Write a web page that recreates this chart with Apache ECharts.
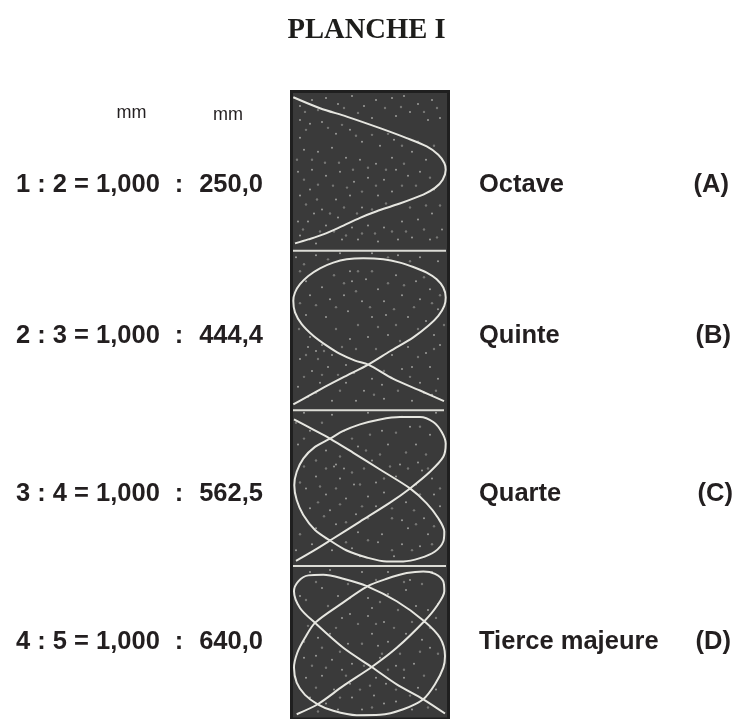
<!DOCTYPE html>
<html><head><meta charset="utf-8">
<style>html,body{margin:0;padding:0;background:#fff}#c{width:737px;height:719px}</style>
<script src="https://cdn.jsdelivr.net/npm/echarts@6/dist/echarts.min.js"></script>
</head><body><div id="c"></div>
<script>
const ratios = ['1 : 2 = 1,000','2 : 3 = 1,000','3 : 4 = 1,000','4 : 5 = 1,000'];
const lengths = ['250,0','444,4','562,5','640,0'];
const intervals = ['Octave','Quinte','Quarte','Tierce majeure'];
const tags = ['(A)','(B)','(C)','(D)'];
const rowY = [185,336,494,642];
const tagX = [729,731,733,731];
const dividers = [[251.5,293,446],[411.5,293,444],[568,293,446]];
const curveA = [[293.3,97.3],[320,108.3],[346.7,116.7],[380,128.3],[406.7,138.3],[426.7,146.7],[438.3,155],[444.3,163.3],[445.7,170],[442.7,180],[435,188.3],[423.3,195],[396.7,205],[376.7,211.7],[360,218.3],[340,227.7],[323.3,235],[308.3,240],[295,244]];
const curveB = [[293.3,405.7],[320,390.7],[346.7,376.7],[368.3,365.7],[390,352.3],[413.3,338.3],[428.3,326.7],[438.3,316.7],[444.3,306.7],[445.7,298.3],[443.3,288.3],[436.7,280],[426.7,273.3],[413.3,267.7],[400,263.3],[383.3,260],[363.3,259],[346.7,260],[333.3,263.3],[320,269],[308.3,276.7],[300,285],[295,293.3],[293.3,301.7],[295,313.3],[301.7,325],[313.3,336.7],[326.7,346.7],[340,355],[355,361.7],[368.3,365.7],[393.3,380],[420,391.7],[444,402.3]];
const curveC = [[294,420.7],[313.3,431],[330,440],[353.3,454.3],[380,471],[410,490],[426.7,505],[438.3,520],[444.3,533.3],[443.3,543.3],[435,553.3],[420,560],[403.3,563.3],[386.7,563.3],[366.7,559.3],[346.7,552.3],[330,542.3],[315,531.7],[303.3,516.7],[296.7,501.7],[294.3,486.7],[296.7,473.3],[303.3,460],[315,448.3],[330,440],[343.3,432.3],[360,425.7],[380,420.7],[400,418.3],[420,418.3],[433.3,423.3],[441.7,433.3],[445.7,445],[443.3,458.3],[430,473.3],[410,490],[390,504.3],[360,523.3],[330,542.3],[313.3,552.7],[296,562.7]];
const curveD = [[296.7,716.7],[317.7,706.7],[343.3,688.3],[371.7,669.3],[396.7,650],[424.3,623.3],[436.7,608.3],[444.3,593.3],[443.3,583.3],[435,575.7],[423.3,573.3],[406.7,575],[386.7,580.7],[367.3,588.3],[340,606.7],[315,625],[305,640],[297.3,655],[294,670],[296.7,685],[305,697.3],[317.7,706.7],[333.3,713.3],[356.7,717.7],[380,717.3],[403.3,711.7],[423.3,701.7],[435,686.7],[443.3,670],[445,658.3],[440,640],[424.3,623.3],[396.7,603.3],[367.3,588.3],[343.3,580.7],[323.3,576.7],[308.3,577.3],[298.3,583.3],[294,593.3],[300,610],[315,625],[343.3,650],[371.7,669.3],[396.7,686.7],[423.3,701.7],[445,716]];
const speckles = [[300,106],[312,100],[326,98],[338,104],[352,96],[364,106],[376,100],[392,98],[404,96],[418,104],[432,100],[440,118],[428,120],[410,112],[396,116],[372,118],[300,120],[310,124],[322,122],[336,134],[350,130],[362,142],[380,146],[394,140],[412,152],[426,160],[300,138],[304,150],[318,152],[332,148],[346,158],[360,160],[376,164],[392,158],[408,176],[420,172],[434,190],[298,172],[312,170],[326,176],[340,172],[354,182],[368,178],[384,180],[396,170],[300,196],[310,190],[322,210],[336,200],[350,196],[362,208],[378,196],[392,192],[298,222],[308,222],[314,214],[326,226],[338,218],[352,228],[368,226],[384,228],[402,222],[418,220],[432,214],[442,230],[300,236],[316,244],[342,240],[358,240],[378,242],[398,240],[412,238],[430,240],[296,258],[316,256],[340,254],[372,254],[398,256],[420,258],[438,262],[306,282],[322,288],[350,272],[352,282],[366,280],[378,290],[396,276],[416,282],[430,290],[310,296],[330,300],[344,296],[362,302],[384,302],[402,296],[420,300],[438,310],[306,316],[326,318],[348,312],[372,318],[386,316],[408,318],[426,322],[434,336],[310,338],[316,352],[322,346],[332,356],[350,340],[368,338],[388,336],[408,348],[426,354],[440,346],[300,360],[308,348],[312,372],[328,368],[346,366],[372,380],[392,356],[412,368],[430,368],[298,388],[320,384],[346,384],[364,392],[382,386],[402,370],[420,384],[438,380],[308,398],[332,402],[356,402],[384,400],[412,402],[432,396],[304,414],[332,416],[368,414],[402,418],[436,414],[310,432],[344,432],[382,432],[410,428],[430,436],[298,446],[326,452],[358,448],[388,446],[416,446],[336,466],[334,468],[344,470],[372,462],[400,466],[418,464],[422,472],[316,478],[340,480],[354,486],[376,484],[396,478],[416,486],[432,480],[306,490],[326,496],[346,500],[368,498],[384,494],[406,504],[434,496],[310,510],[330,512],[356,516],[376,508],[402,522],[424,520],[440,508],[316,530],[336,526],[358,534],[382,536],[408,530],[428,536],[312,546],[332,552],[352,550],[378,544],[402,546],[420,548],[296,552],[360,558],[394,558],[310,574],[330,572],[362,574],[388,574],[410,582],[432,574],[300,598],[322,590],[338,598],[368,600],[372,610],[388,596],[406,592],[342,620],[350,616],[368,618],[384,624],[416,608],[428,612],[438,606],[318,640],[330,636],[348,646],[372,636],[378,648],[388,644],[406,636],[422,642],[304,660],[316,658],[332,662],[342,672],[352,666],[380,660],[396,668],[414,666],[430,650],[306,680],[322,678],[334,692],[350,686],[376,680],[386,686],[404,680],[418,690],[436,692],[310,700],[326,706],[352,700],[374,698],[384,706],[396,704],[412,712],[362,712],[338,712]];
const faintSpeckles = [[305,112],[318,110],[331,112],[344,108],[358,113],[385,108],[401,107],[424,112],[437,108],[306,130],[328,128],[342,125],[356,136],[372,135],[388,134],[402,146],[418,142],[434,146],[297,160],[312,160],[325,163],[339,163],[353,170],[368,168],[386,170],[404,164],[416,186],[430,178],[304,180],[318,185],[333,186],[347,188],[362,192],[376,186],[402,186],[306,205],[317,200],[330,214],[344,208],[357,214],[372,210],[386,204],[410,208],[426,206],[440,206],[303,230],[320,232],[334,232],[346,236],[362,234],[375,234],[392,232],[406,232],[424,230],[437,238],[304,265],[328,260],[388,258],[410,262],[300,272],[334,276],[344,284],[358,272],[372,272],[388,284],[404,286],[424,278],[440,296],[300,304],[316,306],[336,308],[356,292],[370,308],[394,310],[414,308],[432,304],[299,330],[336,330],[358,326],[378,328],[396,326],[418,330],[444,326],[306,356],[318,360],[324,352],[342,348],[356,350],[376,350],[400,342],[418,358],[434,350],[304,378],[322,376],[338,376],[354,374],[384,372],[410,378],[436,392],[316,394],[340,392],[374,396],[398,392],[424,394],[296,424],[322,424],[352,440],[370,436],[396,434],[420,428],[304,440],[316,462],[340,458],[366,452],[380,456],[406,454],[426,456],[304,468],[326,470],[352,474],[364,470],[390,468],[408,470],[428,470],[300,484],[320,488],[336,490],[360,486],[384,480],[420,496],[440,490],[318,504],[340,506],[362,508],[392,510],[414,512],[324,518],[346,524],[368,520],[392,520],[416,526],[434,528],[300,536],[326,540],[346,544],[368,542],[392,552],[412,552],[432,546],[316,584],[348,586],[376,582],[404,584],[422,586],[306,602],[328,608],[350,600],[380,604],[398,612],[436,620],[308,628],[336,630],[358,626],[376,626],[394,630],[412,624],[430,630],[304,644],[322,650],[340,654],[362,646],[382,656],[400,656],[420,654],[438,656],[312,668],[326,670],[346,678],[364,668],[388,672],[404,672],[424,678],[316,690],[340,700],[360,692],[370,688],[396,692],[410,698],[428,710],[318,714],[372,710]];
const curves = [curveA,curveB,curveC,curveD];

const chart = echarts.init(document.getElementById('c'),null,{renderer:'canvas'});
const sans = '"Liberation Sans", Arial, sans-serif';
const bodySize = 25.5;
const txt = (text,x,y,align,size,weight,family,color)=>({type:'text',x,y,silent:true,
  style:{text,fill:color||'#231f20',font:`${weight} ${size}px ${family||sans}`,textAlign:align,textVerticalAlign:'middle'}});
const texts = [txt('PLANCHE I',366.5,31,'center',28.6,'bold','"Liberation Serif", serif','#1d1d1b'),
  txt('mm',131.5,113,'center',18,'normal'),txt('mm',228,115,'center',18,'normal')];
rowY.forEach((y,i)=>{
  texts.push(txt(ratios[i],16,y,'left',bodySize,'bold'));
  texts.push(txt(':',179,y,'center',bodySize,'bold'));
  texts.push(txt(lengths[i],263,y,'right',bodySize,'bold'));
  texts.push(txt(intervals[i],479,y,'left',bodySize,'bold'));
  texts.push(txt(tags[i],tagX[i],y,'right',bodySize,'bold'));
});
const series = curves.map(c=>({type:'line',data:c,smooth:0.3,symbol:'none',z:3,
  lineStyle:{color:'#e6e6e0',width:2}}));
series.push({type:'scatter',data:speckles,symbolSize:2,z:2,silent:true,itemStyle:{color:'#c8c8c4',opacity:0.7}});
series.push({type:'scatter',data:faintSpeckles,symbolSize:2.4,z:2,silent:true,itemStyle:{color:'#a8a8a4',opacity:0.55}});
dividers.forEach(d=>series.push({type:'line',data:[[d[1],d[0]],[d[2],d[0]]],symbol:'none',z:3,lineStyle:{color:'#dcdcd6',width:2}}));
chart.setOption({
  animation:false,backgroundColor:'#fff',
  grid:{left:291.5,top:91.5,width:157,height:630,show:true,backgroundColor:'#3a3a3a',borderColor:'#1f1f1f',borderWidth:3,z:1},
  xAxis:{type:'value',min:291.5,max:448.5,show:false},
  yAxis:{type:'value',min:91.5,max:721.5,inverse:true,show:false},
  series,
  graphic:{elements:texts}
});
</script></body></html>
